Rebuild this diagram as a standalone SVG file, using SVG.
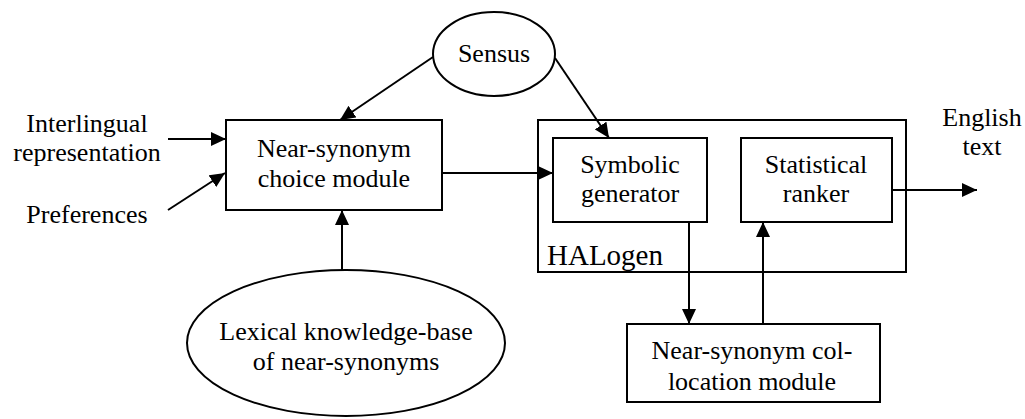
<svg xmlns="http://www.w3.org/2000/svg" width="1025" height="419" viewBox="0 0 1025 419">
<style>
text{font-size:26px;fill:#000;text-anchor:middle}
.box{fill:#fff;stroke:#000;stroke-width:2}
.ell{fill:#fff;stroke:#000;stroke-width:2}
.con{fill:none;stroke:#000;stroke-width:2;marker-end:url(#ah)}
</style>
<defs>
<marker id="ah" markerUnits="userSpaceOnUse" markerWidth="16" markerHeight="14" refX="15" refY="7" orient="auto">
<path d="M0,0 L15,7 L0,14 z" fill="#000"/>
</marker>
</defs>
<rect width="1025" height="419" fill="#fff"/>
<g font-family="Liberation Serif, Times New Roman, serif">
<g id="halogen">
<rect class="box" x="538" y="120" width="368" height="152"/>
<text x="547" y="265" text-anchor="start" font-size="29" style="text-anchor:start;font-size:29px">HALogen</text>
</g>
<g id="sensus">
<ellipse class="ell" cx="494" cy="54" rx="61" ry="42"/>
<text x="494" y="62">Sensus</text>
</g>
<g id="choice">
<rect class="box" x="226" y="120" width="216" height="90"/>
<text x="334" y="157">Near-synonym</text>
<text x="334" y="187">choice module</text>
</g>
<g id="symbolic">
<rect class="box" x="553" y="138" width="154" height="84"/>
<text x="630" y="173">Symbolic</text>
<text x="630" y="202">generator</text>
</g>
<g id="ranker">
<rect class="box" x="741" y="138" width="151" height="84"/>
<text x="816" y="173">Statistical</text>
<text x="816" y="202">ranker</text>
</g>
<g id="lexical">
<ellipse class="ell" cx="346" cy="343" rx="159" ry="73"/>
<text x="346" y="340">Lexical knowledge-base</text>
<text x="346" y="370">of near-synonyms</text>
</g>
<g id="collocation">
<rect class="box" x="627" y="324" width="253" height="78"/>
<text x="752" y="359">Near-synonym col-</text>
<text x="752" y="390">location module</text>
</g>
<g id="interlingual">
<text x="87" y="132">Interlingual</text>
<text x="87" y="161">representation</text>
</g>
<g id="preferences">
<text x="87" y="223">Preferences</text>
</g>
<g id="english">
<text x="982" y="126">English</text>
<text x="982" y="155">text</text>
</g>
</g>
<g id="connectors">
<line class="con" x1="168" y1="139" x2="226" y2="139"/>
<line class="con" x1="168" y1="210" x2="225" y2="173"/>
<line class="con" x1="433" y1="57" x2="340" y2="120"/>
<line class="con" x1="555" y1="58" x2="609" y2="138"/>
<line class="con" x1="442" y1="173" x2="553" y2="173"/>
<line class="con" x1="342" y1="270" x2="342" y2="210"/>
<line class="con" x1="892" y1="190" x2="977" y2="190"/>
<line class="con" x1="689" y1="222" x2="689" y2="324"/>
<line class="con" x1="763" y1="324" x2="763" y2="222"/>
</g>
</svg>
